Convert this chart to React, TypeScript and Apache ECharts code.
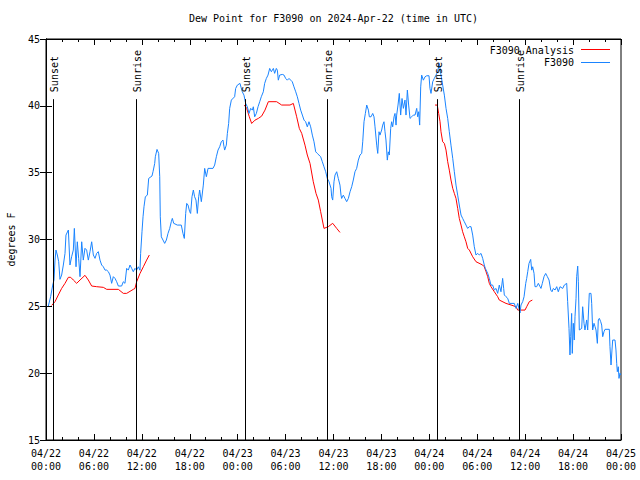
import { useEffect, useRef } from 'react';
import * as echarts from 'echarts';

const chartTitle = 'Dew Point for F3090 on 2024-Apr-22 (time in UTC)';
const yAxisName = 'degrees F';
const dayLabels = ['04/22', '04/23', '04/24', '04/25'];
const seriesNames = ['F3090 Analysis', 'F3090'];

// hours since 04/22 00:00 UTC
const f3090Hours = [
  0.29, 0.58, 0.84, 1.0, 1.13, 1.25, 1.42, 1.59, 1.75, 1.96, 2.17, 2.38, 2.5, 2.8, 3.0, 3.21, 3.42, 3.55, 3.76, 3.92,
  4.09, 4.26, 4.47, 4.67, 4.88, 5.09, 5.3, 5.51, 5.72, 5.93, 6.14, 6.34, 6.55, 6.76, 6.97, 7.18, 7.39, 7.6, 7.81, 8.01,
  8.22, 8.43, 8.64, 8.85, 9.06, 9.47, 9.68, 9.89, 10.1, 10.31, 10.52, 10.73, 10.93, 11.14, 11.35, 11.56, 11.77, 11.85, 12.02, 12.15,
  12.27, 12.44, 12.69, 12.86, 13.27, 13.4, 13.61, 13.69, 13.9, 14.11, 14.24, 14.31, 14.44, 14.65, 14.86, 15.07, 15.28, 15.49, 15.69, 15.82,
  15.99, 16.44, 16.94, 17.15, 17.32, 17.49, 17.62, 17.78, 17.99, 18.11, 18.28, 18.45, 18.61, 18.78, 18.95, 19.12, 19.24, 19.45, 19.7, 19.87,
  20.08, 20.29, 20.91, 21.12, 21.33, 21.54, 21.75, 21.95, 22.16, 22.29, 22.37, 22.58, 22.71, 22.87, 23.0, 23.21, 23.62, 23.75, 23.96, 24.29,
  24.58, 24.79, 25.0, 25.21, 25.42, 25.63, 25.84, 25.96, 26.13, 26.34, 26.55, 26.76, 26.96, 27.21, 27.38, 27.59, 27.8, 28.01, 28.22, 28.34,
  28.47, 28.63, 28.84, 28.97, 29.09, 29.26, 29.59, 29.8, 30.01, 30.22, 30.43, 30.64, 30.84, 31.05, 31.27, 31.47, 31.68, 31.89, 32.1, 32.31,
  32.51, 32.72, 32.93, 33.14, 33.35, 33.56, 33.77, 33.97, 34.18, 34.39, 34.6, 34.81, 35.02, 35.22, 35.44, 35.69, 35.77, 35.9, 36.06, 36.19,
  36.4, 36.6, 36.81, 36.94, 37.02, 37.23, 37.44, 37.65, 37.86, 38.07, 38.28, 38.48, 38.69, 38.9, 39.11, 39.32, 39.53, 39.66, 39.82, 39.99,
  40.16, 40.37, 40.49, 40.7, 40.91, 41.07, 41.2, 41.41, 41.54, 41.7, 41.82, 42.03, 42.16, 42.32, 42.45, 42.57, 42.74, 42.86, 42.99, 43.16,
  43.28, 43.41, 43.58, 43.7, 43.83, 43.91, 44.08, 44.24, 44.41, 44.58, 44.75, 44.95, 45.08, 45.25, 45.41, 45.58, 45.79, 46.0, 46.21, 46.42,
  46.54, 46.67, 46.79, 46.92, 47.04, 47.25, 47.46, 47.67, 47.96, 48.08, 48.21, 48.42, 48.62, 48.84, 49.04, 49.25, 49.46, 49.67, 49.88, 50.09,
  50.3, 50.5, 50.71, 50.93, 51.13, 51.34, 51.55, 51.75, 51.97, 52.17, 52.38, 52.59, 52.8, 53.01, 53.22, 53.43, 53.63, 53.84, 54.06, 54.26,
  54.47, 54.68, 54.88, 55.01, 55.31, 55.51, 55.72, 55.93, 56.14, 56.35, 56.56, 56.76, 56.97, 57.18, 57.31, 57.39, 57.6, 57.81, 58.02, 58.64,
  58.85, 59.07, 59.35, 59.48, 59.69, 59.86, 60.07, 60.19, 60.32, 60.48, 60.69, 60.82, 60.94, 61.11, 61.23, 61.44, 61.65, 61.86, 61.98, 62.15,
  62.36, 62.57, 62.78, 62.99, 63.2, 63.36, 63.53, 63.74, 63.95, 64.15, 64.36, 64.7, 64.9, 65.2, 65.32, 65.49, 65.61, 65.7, 65.82, 65.9,
  66.03, 66.15, 66.24, 66.37, 66.45, 66.58, 66.66, 66.78, 67.08, 67.2, 67.37, 67.49, 67.7, 67.83, 68.03, 68.24, 68.33, 68.45, 68.62, 68.75,
  68.87, 69.04, 69.16, 69.29, 69.46, 69.58, 69.71, 69.87, 70.0, 70.54, 70.62, 70.75, 70.87, 70.96, 71.25, 71.37, 71.46, 71.54, 71.66, 71.75,
  71.87, 71.96,
];
const f3090Values = [
  25.02, 25.72, 26.59, 26.97, 28.46, 29.21, 28.84, 28.34, 27.02, 27.34, 28.09, 28.96, 30.33, 30.71, 28.09, 28.71, 29.21, 30.83, 27.96, 29.83,
  28.59, 27.22, 29.83, 28.46, 29.34, 29.21, 28.46, 29.09, 29.83, 28.84, 28.59, 28.96, 29.09, 28.46, 28.09, 27.96, 27.71, 27.71, 27.59, 27.34,
  26.72, 27.22, 27.09, 26.84, 26.52, 26.52, 26.84, 26.72, 27.84, 27.71, 28.09, 27.84, 27.59, 27.84, 27.71, 27.96, 27.7, 28.96, 30.58, 31.7,
  32.45, 33.2, 33.32, 34.57, 34.75, 35.07, 35.69, 36.19, 36.74, 36.44, 34.7, 31.7, 30.2, 29.96, 29.71, 29.96, 30.46, 30.83, 31.33, 31.58,
  31.21, 31.08, 31.08, 30.46, 30.08, 31.95, 32.7, 32.58, 32.08, 31.95, 33.2, 33.7, 33.2, 32.95, 31.95, 33.2, 33.7, 32.83, 34.07, 35.32,
  34.7, 35.32, 35.32, 35.57, 36.19, 36.69, 36.94, 37.31, 37.44, 36.94, 36.69, 37.06, 37.94, 38.68, 39.81, 40.43, 40.68, 41.3, 41.55, 41.68,
  41.05, 40.8, 40.18, 39.93, 39.43, 39.81, 39.68, 39.93, 39.18, 39.43, 39.93, 40.31, 40.68, 41.05, 41.68, 42.05, 42.3, 42.8, 42.55, 42.67,
  42.8, 42.43, 42.8, 42.67, 41.92, 42.3, 42.35, 42.3, 42.05, 41.92, 42.05, 41.92, 41.8, 41.42, 41.05, 40.68, 40.18, 39.68, 39.31, 38.93,
  38.81, 38.43, 38.81, 38.43, 37.81, 37.31, 36.56, 36.44, 36.32, 36.19, 35.82, 35.44, 35.07, 34.57, 34.32, 33.83, 33.2, 32.95, 34.32, 34.82,
  35.07, 34.57, 34.07, 33.32, 33.07, 33.32, 33.07, 32.83, 33.07, 33.57, 33.95, 34.45, 35.07, 35.32, 35.94, 36.32, 36.44, 37.31, 38.81, 39.43,
  40.06, 39.68, 39.18, 39.18, 39.43, 39.18, 38.43, 37.06, 36.44, 38.06, 37.81, 38.19, 38.56, 38.81, 38.06, 37.44, 35.94, 36.56, 36.32, 38.31,
  38.81, 38.43, 39.18, 39.43, 38.56, 39.31, 40.06, 40.93, 39.31, 40.55, 39.81, 40.43, 39.31, 41.18, 40.06, 39.06, 39.18, 39.31, 39.31, 39.81,
  39.18, 39.56, 38.56, 41.42, 42.3, 41.92, 42.17, 42.25, 42.25, 41.3, 40.93, 41.8, 42.05, 42.3, 42.55, 43.17, 42.3, 41.55, 40.8, 39.81,
  39.06, 38.06, 37.06, 36.07, 35.07, 34.07, 33.32, 32.58, 31.83, 31.58, 31.33, 31.08, 30.83, 30.96, 30.96, 30.33, 29.46, 28.84, 28.96, 28.84,
  28.96, 28.59, 28.09, 27.84, 27.46, 27.09, 26.59, 26.59, 26.22, 26.34, 25.97, 26.59, 26.09, 27.09, 26.34, 25.85, 25.72, 25.6, 25.22, 25.22,
  24.85, 25.22, 24.5, 25.1, 25.35, 25.72, 26.72, 27.09, 27.59, 28.21, 28.51, 27.71, 27.96, 27.46, 26.47, 26.47, 26.72, 26.47, 26.34, 26.72,
  27.22, 27.46, 27.22, 26.97, 26.22, 26.09, 26.34, 26.22, 26.47, 26.09, 26.47, 26.34, 26.59, 26.72, 25.35, 23.35, 21.36, 22.73, 24.47, 21.48,
  23.73, 22.48, 24.22, 25.6, 27.22, 28.01, 26.84, 23.23, 23.35, 24.97, 23.73, 23.23, 23.98, 23.23, 25.97, 25.97, 25.22, 23.23, 23.73, 23.48,
  23.23, 22.23, 23.98, 24.1, 23.85, 23.6, 22.73, 23.1, 23.28, 23.28, 21.98, 20.61, 21.73, 22.48, 22.48, 21.73, 20.74, 20.11, 20.48, 19.61,
  19.99, 19.86,
];

// null = gap between analysis runs
const analysisHours = [
  0.71, 1.13, 1.54, 1.96, 2.38, 2.8, 3.09, 3.42, 3.84, 4.26, 4.88, 5.3, 5.72, 6.34, 7.18, 7.6, 9.06, 9.68, 10.1, 10.93,
  11.14, 11.35, 11.77, 12.19, 12.6, 12.94, 18.0,
  24.83, 25.13, 25.46, 25.75, 26.17, 26.59, 27.0, 27.42, 27.84, 28.88, 29.51, 30.55, 30.97, 31.39, 31.72, 32.02, 32.43, 32.72, 33.06,
  33.47, 33.81, 34.1, 34.39, 34.81, 35.35, 35.9, 36.4, 36.81, 42.0,
  48.71, 48.99, 49.17, 49.34, 49.46, 49.67, 49.88, 50.09, 50.3, 50.5, 50.71, 50.93, 51.13, 51.34, 51.55, 51.75, 51.97, 52.17, 52.38, 52.59,
  52.8, 53.01, 53.43, 53.84, 54.68, 54.88, 55.1, 55.31, 55.51, 55.72, 56.14, 56.56, 56.76, 57.6, 58.23, 58.85, 59.07, 59.98, 60.19, 60.52,
  60.9,
];
const analysisValues: (number | null)[] = [
  25.07, 25.35, 25.85, 26.34, 26.72, 27.17, 27.17, 26.97, 26.72, 26.97, 27.32, 26.97, 26.52, 26.47, 26.42, 26.27, 26.27, 25.97, 25.97, 26.27,
  26.34, 26.84, 27.46, 27.96, 28.46, 28.84, null,
  40.06, 39.81, 39.18, 38.68, 38.93, 39.06, 39.23, 39.68, 40.31, 40.31, 40.06, 40.06, 40.18, 39.18, 38.31, 37.94, 37.06, 36.32, 35.69,
  34.32, 33.45, 32.95, 32.08, 30.83, 30.96, 31.21, 30.83, 30.53, null,
  40.06, 40.06, 39.43, 38.81, 38.06, 37.31, 37.19, 36.69, 35.82, 35.19, 34.45, 33.83, 33.45, 33.07, 32.33, 31.58, 31.08, 30.58, 30.2, 29.83,
  29.34, 29.21, 28.71, 28.34, 28.09, 27.96, 27.59, 27.22, 26.72, 26.47, 26.09, 25.72, 25.47, 25.22, 25.1, 24.97, 24.72, 24.72, 24.97, 25.35,
  25.47,
];

const sunEventHours = [0.92, 11.31, 24.92, 35.24, 48.98, 59.27];
const sunEventNames = ['Sunset', 'Sunrise', 'Sunset', 'Sunrise', 'Sunset', 'Sunrise'];
const sunLineBottom = 15;
const sunLineTop = 40.5;

const FONT = 'DejaVu Sans Mono';
const RED = '#ff0000';
const BLUE = '#1a84ff';

function hourLabel(h: number): string {
  const day = Math.floor(h / 24 + 1e-9);
  const hr = Math.round(h - day * 24);
  return `${dayLabels[day]}\n${String(hr).padStart(2, '0')}:00`;
}

export default function App() {
  const ref = useRef<HTMLDivElement>(null);
  useEffect(() => {
    const chart = echarts.init(ref.current!, null, { renderer: 'svg' });
    const axisLineStyle = { color: '#000', width: 1 };
    const xBase = {
      type: 'value',
      min: 0,
      max: 72,
      interval: 6,
      axisLine: { show: true, lineStyle: axisLineStyle },
      axisTick: { show: true, inside: true, length: 6, lineStyle: axisLineStyle },
      minorTick: { show: true, splitNumber: 3, length: 3, lineStyle: axisLineStyle },
      splitLine: { show: false },
      minorSplitLine: { show: false },
    };
    const yBase = {
      type: 'value',
      min: 15,
      max: 45,
      interval: 5,
      axisLine: { show: true, lineStyle: axisLineStyle },
      axisTick: { show: true, inside: true, length: 6, lineStyle: axisLineStyle },
      splitLine: { show: false },
    };
    chart.setOption({
      animation: false,
      backgroundColor: '#fff',
      title: {
        text: chartTitle,
        left: 189,
        top: 13,
        padding: 0,
        textStyle: { fontFamily: FONT, fontSize: 10, fontWeight: 'normal', color: '#000' },
      },
      grid: {
        left: 46,
        right: 19,
        top: 39,
        bottom: 40,
        show: true,
        borderColor: '#000',
        borderWidth: 1,
        backgroundColor: 'transparent',
        containLabel: false,
        outerBoundsMode: 'none',
      },
      xAxis: [
        {
          ...xBase,
          position: 'bottom',
          axisLabel: {
            formatter: (v: number) => hourLabel(v),
            fontFamily: FONT,
            fontSize: 10,
            color: '#000',
            lineHeight: 13,
            margin: 7,
          },
        },
        { ...xBase, position: 'top', axisLabel: { show: false } },
      ],
      yAxis: [
        {
          ...yBase,
          position: 'left',
          name: yAxisName,
          nameLocation: 'middle',
          nameGap: 30,
          nameRotate: 90,
          nameTextStyle: { fontFamily: FONT, fontSize: 10, color: '#000' },
          axisLabel: { fontFamily: FONT, fontSize: 10, color: '#000', margin: 6 },
        },
        { ...yBase, position: 'right', axisLabel: { show: false } },
      ],
      series: [
        {
          name: seriesNames[0],
          type: 'line',
          xAxisIndex: 0,
          yAxisIndex: 0,
          showSymbol: false,
          symbol: 'none',
          connectNulls: false,
          lineStyle: { color: RED, width: 1 },
          itemStyle: { color: RED },
          data: analysisHours.map((h, i) => [h, analysisValues[i] === null ? '-' : analysisValues[i]]),
        },
        {
          name: seriesNames[1],
          type: 'line',
          xAxisIndex: 0,
          yAxisIndex: 0,
          showSymbol: false,
          symbol: 'none',
          lineStyle: { color: BLUE, width: 1 },
          itemStyle: { color: BLUE },
          data: f3090Hours.map((h, i) => [h, f3090Values[i]]),
          markLine: {
            silent: true,
            symbol: ['none', 'none'],
            label: { show: false },
            lineStyle: { color: '#000', width: 1, type: 'solid' },
            data: sunEventHours.map((h) => [
              { coord: [h, sunLineBottom] },
              { coord: [h, sunLineTop] },
            ]),
          },
        },
      ],
    });

    const sunLabels = sunEventHours.map((h, i) => {
      const p = chart.convertToPixel({ xAxisIndex: 0, yAxisIndex: 0 }, [h, sunLineTop]) as number[];
      return {
        type: 'text',
        x: p[0] + 1,
        y: p[1] - 7,
        rotation: Math.PI / 2,
        z: 10,
        style: { text: sunEventNames[i], fontFamily: FONT, fontSize: 10, fill: '#000', align: 'left', verticalAlign: 'middle' },
      };
    });
    const legendItems = [
      { type: 'text', x: 574, y: 50, style: { text: seriesNames[0], fontFamily: FONT, fontSize: 10, fill: '#000', align: 'right', verticalAlign: 'middle' }, z: 10 },
      { type: 'line', shape: { x1: 581, y1: 49.5, x2: 610, y2: 49.5 }, style: { stroke: RED, lineWidth: 1 }, z: 10 },
      { type: 'text', x: 574, y: 62.5, style: { text: seriesNames[1], fontFamily: FONT, fontSize: 10, fill: '#000', align: 'right', verticalAlign: 'middle' }, z: 10 },
      { type: 'line', shape: { x1: 581, y1: 62.5, x2: 610, y2: 62.5 }, style: { stroke: BLUE, lineWidth: 1 }, z: 10 },
    ];
    chart.setOption({ graphic: [...legendItems, ...sunLabels] });
    return () => chart.dispose();
  }, []);
  return <div ref={ref} style={{ position: 'fixed', left: 0, top: 0, width: 640, height: 480 }} />;
}
